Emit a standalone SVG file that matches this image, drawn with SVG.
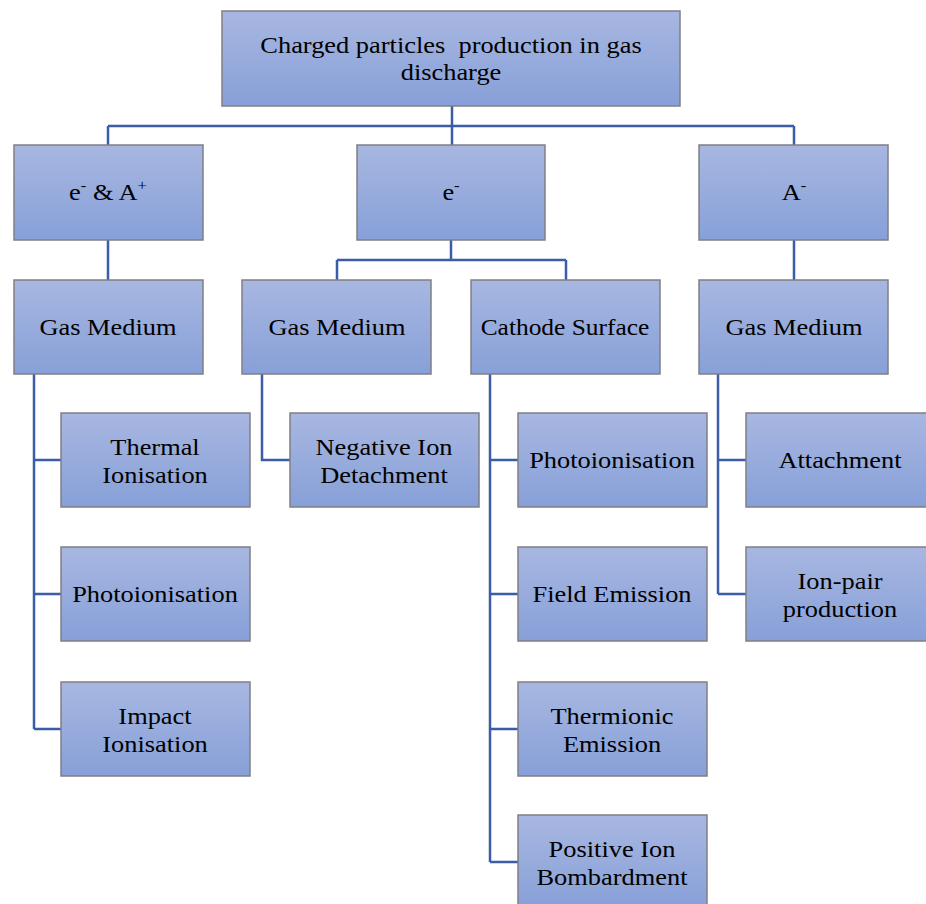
<svg xmlns="http://www.w3.org/2000/svg" width="926" height="904" viewBox="0 0 926 904">
<defs>
<linearGradient id="g" x1="0" y1="0" x2="0" y2="1">
<stop offset="0" stop-color="#a8b7e1"/>
<stop offset="1" stop-color="#87a0d8"/>
</linearGradient>
<style>
.b{fill:url(#g);stroke:#7f7f85;stroke-width:1.5}
.t{font-family:"Liberation Serif","Times New Roman",serif;font-size:24px;fill:#000;text-anchor:middle}
.c{fill:none;stroke:#3b5ca6;stroke-width:2.5}
</style>
</defs>
<rect width="926" height="904" fill="#fff"/>
<g id="connectors">
<path class="c" d="M452,106V145M108,126H794M108,126V145M794,126V145"/>
<path class="c" d="M108,240V280M451,240V260M337,260H566M337,260V280M566,260V280M794,240V280"/>
<path class="c" d="M34,374V729M34,460H61M34,594H61M34,729H61"/>
<path class="c" d="M262,374V460H290"/>
<path class="c" d="M490,374V862M490,460H518M490,594H518M490,729H518M490,862H518"/>
<path class="c" d="M718,374V594M718,460H746M718,594H746"/>
</g>
<g id="root"><rect class="b" x="222" y="11" width="458" height="95"/>
<text class="t" transform="translate(451,53) scale(1.1,1)" xml:space="preserve">Charged particles  production in gas</text>
<text class="t" transform="translate(451,80) scale(1.1,1)">discharge</text></g>
<g id="eA"><rect class="b" x="14" y="145" width="189" height="95"/>
<text class="t" transform="translate(108,200) scale(1.1,1)">e<tspan font-size="15" dy="-10">-</tspan><tspan dy="10"> &amp; A</tspan><tspan font-size="15" dy="-10">+</tspan></text></g>
<g id="e"><rect class="b" x="357" y="145" width="188" height="95"/>
<text class="t" transform="translate(451,200) scale(1.1,1)">e<tspan font-size="15" dy="-10">-</tspan></text></g>
<g id="A"><rect class="b" x="699" y="145" width="189" height="95"/>
<text class="t" transform="translate(794,200) scale(1.1,1)">A<tspan font-size="15" dy="-10">-</tspan></text></g>
<g id="gm1"><rect class="b" x="14" y="280" width="189" height="94"/>
<text class="t" transform="translate(108,335) scale(1.1,1)">Gas Medium</text></g>
<g id="gm2"><rect class="b" x="242" y="280" width="189" height="94"/>
<text class="t" transform="translate(337,335) scale(1.1,1)">Gas Medium</text></g>
<g id="cs"><rect class="b" x="471" y="280" width="189" height="94"/>
<text class="t" transform="translate(565,335) scale(1.06,1)">Cathode Surface</text></g>
<g id="gm3"><rect class="b" x="699" y="280" width="189" height="94"/>
<text class="t" transform="translate(794,335) scale(1.1,1)">Gas Medium</text></g>
<g id="thermal"><rect class="b" x="61" y="413" width="189" height="94"/>
<text class="t" transform="translate(155,455) scale(1.1,1)">Thermal</text>
<text class="t" transform="translate(155,483) scale(1.1,1)">Ionisation</text></g>
<g id="photo1"><rect class="b" x="61" y="547" width="189" height="94"/>
<text class="t" transform="translate(155,602) scale(1.1,1)">Photoionisation</text></g>
<g id="impact"><rect class="b" x="61" y="682" width="189" height="94"/>
<text class="t" transform="translate(155,724) scale(1.1,1)">Impact</text>
<text class="t" transform="translate(155,752) scale(1.1,1)">Ionisation</text></g>
<g id="negion"><rect class="b" x="290" y="413" width="189" height="94"/>
<text class="t" transform="translate(384,455) scale(1.1,1)">Negative Ion</text>
<text class="t" transform="translate(384,483) scale(1.1,1)">Detachment</text></g>
<g id="photo2"><rect class="b" x="518" y="413" width="189" height="94"/>
<text class="t" transform="translate(612,468) scale(1.1,1)">Photoionisation</text></g>
<g id="field"><rect class="b" x="518" y="547" width="189" height="94"/>
<text class="t" transform="translate(612,602) scale(1.1,1)">Field Emission</text></g>
<g id="thermionic"><rect class="b" x="518" y="682" width="189" height="94"/>
<text class="t" transform="translate(612,724) scale(1.1,1)">Thermionic</text>
<text class="t" transform="translate(612,752) scale(1.1,1)">Emission</text></g>
<g id="pib"><rect class="b" x="518" y="815" width="189" height="94"/>
<text class="t" transform="translate(612,857) scale(1.1,1)">Positive Ion</text>
<text class="t" transform="translate(612,885) scale(1.1,1)">Bombardment</text></g>
<g id="attach"><rect class="b" x="746" y="413" width="189" height="94"/>
<text class="t" transform="translate(840,468) scale(1.1,1)">Attachment</text></g>
<g id="ionpair"><rect class="b" x="746" y="547" width="189" height="94"/>
<text class="t" transform="translate(840,589) scale(1.1,1)">Ion-pair</text>
<text class="t" transform="translate(840,617) scale(1.1,1)">production</text></g>
</svg>
